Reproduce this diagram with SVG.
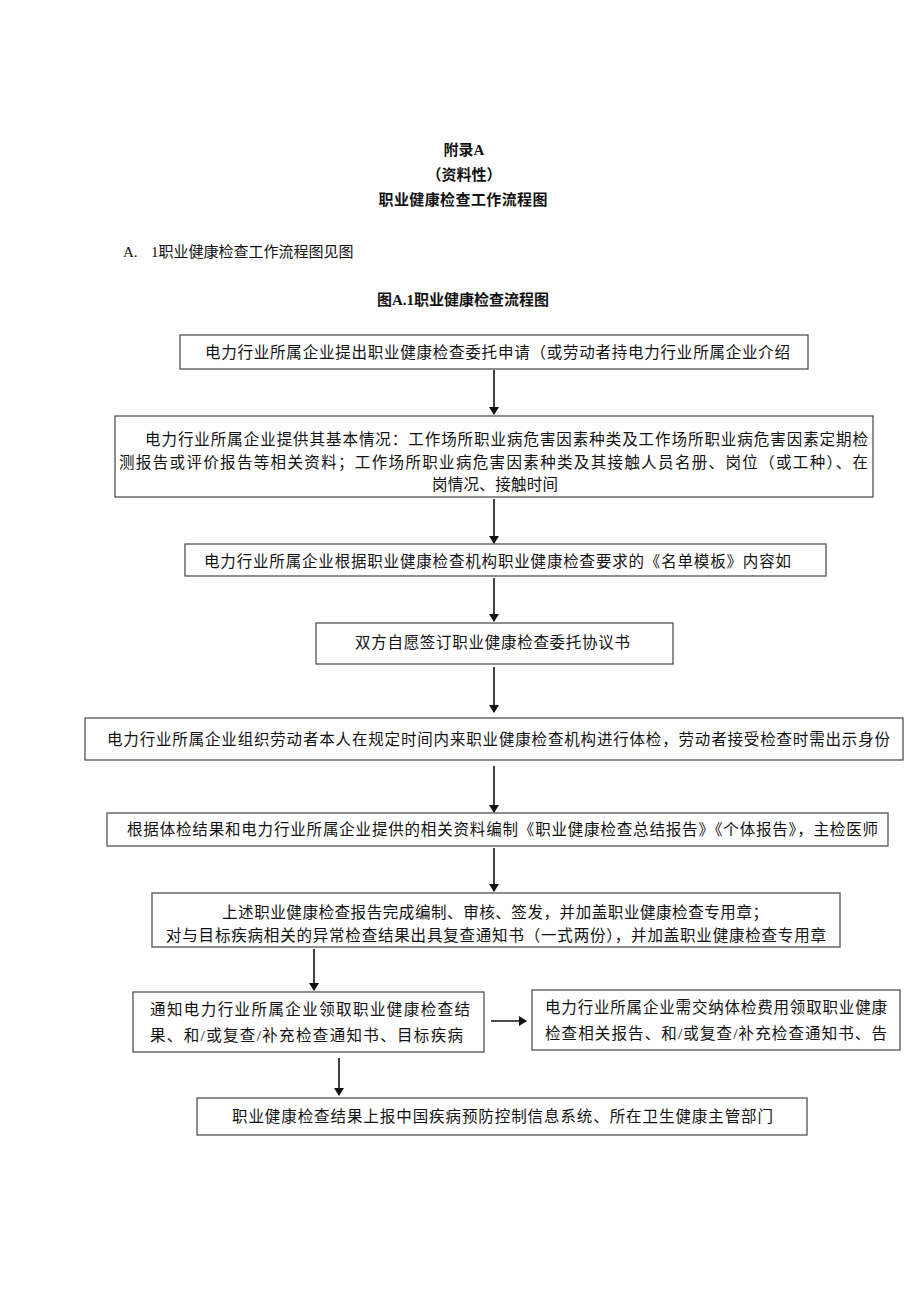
<svg xmlns="http://www.w3.org/2000/svg" width="920" height="1301" viewBox="0 0 920 1301">
<style>
text{font-family:"Liberation Serif","Noto Sans CJK SC",serif;fill:#111;}
.t{font-size:15px;font-weight:bold;text-anchor:middle;}
.p{font-size:15px;}
.n{font-size:15.5px;}
.box{fill:#fff;stroke:#444;stroke-width:1.2;}
.c{stroke:#111;stroke-width:1.6;fill:none;marker-end:url(#ah);}
</style>
<defs>
<marker id="ah" markerWidth="8" markerHeight="10" refX="7" refY="5" orient="auto" markerUnits="userSpaceOnUse">
<path d="M0,0 L8,5 L0,10 z" fill="#111"/>
</marker>
</defs>
<rect width="920" height="1301" fill="#fff"/>
<g id="header">
<text class="t" x="464" y="155">附录A</text>
<text class="t" x="464" y="180">（资料性）</text>
<text class="t" x="463" y="205" textLength="169" lengthAdjust="spacing">职业健康检查工作流程图</text>
<text class="p" x="123" y="257">A.<tspan x="151">1职业健康检查工作流程图见图</tspan></text>
<text class="t" x="463" y="305">图A.1职业健康检查流程图</text>
</g>
<g id="connectors">
<line class="c" x1="494" y1="370" x2="494" y2="414"/>
<line class="c" x1="494" y1="499" x2="494" y2="543"/>
<line class="c" x1="494" y1="578" x2="494" y2="621"/>
<line class="c" x1="494" y1="667" x2="494" y2="712"/>
<line class="c" x1="494" y1="766" x2="494" y2="812"/>
<line class="c" x1="494" y1="848" x2="494" y2="891"/>
<line class="c" x1="314" y1="949" x2="314" y2="990"/>
<line class="c" x1="491" y1="1021" x2="526" y2="1021"/>
<line class="c" x1="339" y1="1058" x2="339" y2="1095"/>
</g>
<g id="n1">
<rect class="box" x="180" y="335" width="628" height="34"/>
<text class="n" x="205" y="358" textLength="585" lengthAdjust="spacing">电力行业所属企业提出职业健康检查委托申请（或劳动者持电力行业所属企业介绍</text>
</g>
<g id="n2">
<rect class="box" x="115" y="416" width="758" height="81"/>
<text class="n" x="145" y="445" textLength="723" lengthAdjust="spacing">电力行业所属企业提供其基本情况：工作场所职业病危害因素种类及工作场所职业病危害因素定期检</text>
<text class="n" x="119" y="468" textLength="749" lengthAdjust="spacing">测报告或评价报告等相关资料；工作场所职业病危害因素种类及其接触人员名册、岗位（或工种）、在</text>
<text class="n" x="432" y="490" textLength="126" lengthAdjust="spacing">岗情况、接触时间</text>
</g>
<g id="n3">
<rect class="box" x="185" y="544" width="641" height="32"/>
<text class="n" x="204" y="567" textLength="587" lengthAdjust="spacing">电力行业所属企业根据职业健康检查机构职业健康检查要求的《名单模板》内容如</text>
</g>
<g id="n4">
<rect class="box" x="316" y="623" width="357" height="41"/>
<text class="n" x="355" y="648" textLength="275" lengthAdjust="spacing">双方自愿签订职业健康检查委托协议书</text>
</g>
<g id="n5">
<rect class="box" x="85" y="718" width="818" height="42"/>
<text class="n" x="107" y="745" textLength="783" lengthAdjust="spacing">电力行业所属企业组织劳动者本人在规定时间内来职业健康检查机构进行体检，劳动者接受检查时需出示身份</text>
</g>
<g id="n6">
<rect class="box" x="107" y="813" width="781" height="33"/>
<text class="n" x="127" y="835" textLength="751" lengthAdjust="spacing">根据体检结果和电力行业所属企业提供的相关资料编制《职业健康检查总结报告》《个体报告》，主检医师</text>
</g>
<g id="n7">
<rect class="box" x="152" y="893" width="688" height="54"/>
<text class="n" x="222" y="918" textLength="546" lengthAdjust="spacing">上述职业健康检查报告完成编制、审核、签发，并加盖职业健康检查专用章；</text>
<text class="n" x="166" y="941" textLength="660" lengthAdjust="spacing">对与目标疾病相关的异常检查结果出具复查通知书（一式两份），并加盖职业健康检查专用章</text>
</g>
<g id="n8">
<rect class="box" x="133" y="992" width="351" height="60"/>
<text class="n" x="150" y="1015" textLength="320" lengthAdjust="spacing">通知电力行业所属企业领取职业健康检查结</text>
<text class="n" x="150" y="1041" textLength="313" lengthAdjust="spacing">果、和/或复查/补充检查通知书、目标疾病</text>
</g>
<g id="n9">
<rect class="box" x="532" y="990" width="368" height="60"/>
<text class="n" x="545" y="1013" textLength="342" lengthAdjust="spacing">电力行业所属企业需交纳体检费用领取职业健康</text>
<text class="n" x="545" y="1039" textLength="342" lengthAdjust="spacing">检查相关报告、和/或复查/补充检查通知书、告</text>
</g>
<g id="n10">
<rect class="box" x="197" y="1098" width="610" height="37"/>
<text class="n" x="232" y="1122" textLength="541" lengthAdjust="spacing">职业健康检查结果上报中国疾病预防控制信息系统、所在卫生健康主管部门</text>
</g>
</svg>
